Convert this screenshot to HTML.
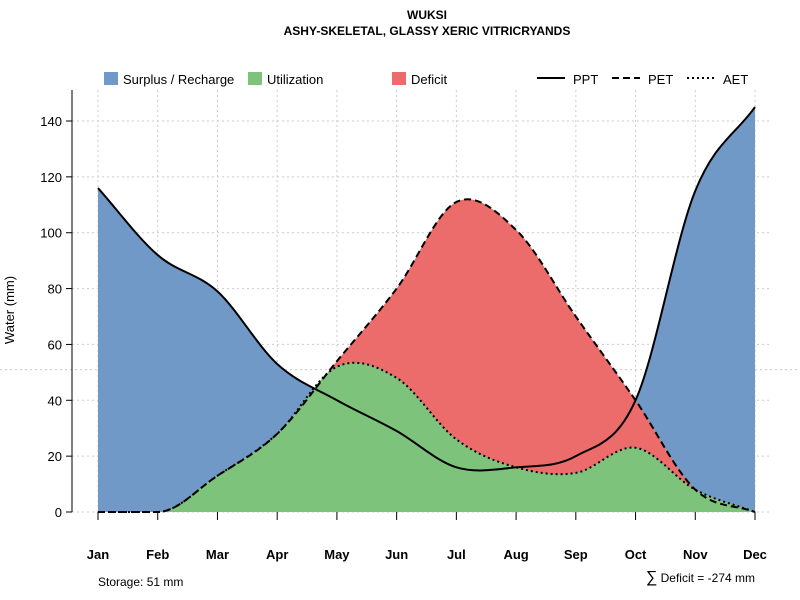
<!DOCTYPE html>
<html><head><meta charset="utf-8"><style>
body{margin:0;background:#fff}
svg{display:block;font-family:"Liberation Sans",sans-serif}
</style></head><body>
<svg id="chart" width="800" height="600">
<text x="427" y="19" text-anchor="middle" font-size="12" font-weight="bold">WUKSI</text>
<text x="427" y="35" text-anchor="middle" font-size="12" font-weight="bold">ASHY-SKELETAL, GLASSY XERIC VITRICRYANDS</text>
<g id="grid"></g>
<g id="areas"></g>
<g id="lines"></g>
<g id="axes"></g>
<g font-size="13">
<rect x="104" y="72" width="14" height="13" fill="#7199c8"/>
<text x="123" y="84">Surplus / Recharge</text>
<rect x="248" y="72" width="14" height="13" fill="#7dc37b"/>
<text x="267" y="84">Utilization</text>
<rect x="392" y="72" width="14" height="13" fill="#ec6b6b"/>
<text x="411" y="84">Deficit</text>
<line x1="537" y1="78" x2="565" y2="78" stroke="#000" stroke-width="2"/>
<text x="573" y="84">PPT</text>
<line x1="612" y1="78" x2="640" y2="78" stroke="#000" stroke-width="2" stroke-dasharray="7,4"/>
<text x="648" y="84">PET</text>
<line x1="687" y1="78" x2="715" y2="78" stroke="#000" stroke-width="2" stroke-dasharray="2,3"/>
<text x="723" y="84">AET</text>
</g>
<text x="14" y="310" font-size="13" text-anchor="middle" transform="rotate(-90 14 310)">Water (mm)</text>
<text x="98" y="586" font-size="12">Storage: 51 mm</text>
<text x="755" y="582" font-size="12" text-anchor="end"><tspan font-size="16">∑</tspan> Deficit = -274 mm</text>
</svg>
<script>
const months=["Jan","Feb","Mar","Apr","May","Jun","Jul","Aug","Sep","Oct","Nov","Dec"];
const ppt=[116,92,79,53,40,29,16,16,20,40,115,145];
const pet=[0,0,13,28,54,80,111,101,70,40,8,0];
const aet=[0,0,13,28,52,48,26,16,14,23,8,0];
const yTicks=[0,20,40,60,80,100,120,140];
const storage=51;
const NS="http://www.w3.org/2000/svg";
const X=i=>98+i*(755-98)/11;
const Y=v=>512-v*(512-121)/140;
function mk(t,a,p){const e=document.createElementNS(NS,t);for(const k in a)e.setAttribute(k,a[k]);document.getElementById(p).appendChild(e);return e;}
function curve(vals){
  const n=vals.length,xs=vals.map((v,i)=>X(i)),ys=vals.map(Y);
  const d=[],m=[];
  for(let i=0;i<n-1;i++)d.push((ys[i+1]-ys[i])/(xs[i+1]-xs[i]));
  for(let i=0;i<n;i++){
    if(i==0)m.push(d[0]);else if(i==n-1)m.push(d[n-2]);
    else if(vals[i]==0&&(d[i-1]==0||d[i]==0))m.push(0);
    else m.push((d[i-1]+d[i])/2);
  }
  let p="M"+xs[0]+","+ys[0];
  for(let i=0;i<n-1;i++){const h=(xs[i+1]-xs[i])/3;p+=" C"+(xs[i]+h)+","+(ys[i]+m[i]*h)+" "+(xs[i+1]-h)+","+(ys[i+1]-m[i+1]*h)+" "+xs[i+1]+","+ys[i+1];}
  return p;
}
const close=" L"+X(11)+","+Y(0)+" L"+X(0)+","+Y(0)+" Z";
months.forEach((m,i)=>{const g=mk("line",{x1:X(i),x2:X(i),y1:90,y2:512,stroke:"#ccc","stroke-dasharray":"2,3"},"grid");

});
yTicks.forEach(v=>{const g=mk("line",{x1:72,x2:770,y1:Y(v),y2:Y(v),stroke:"#ccc","stroke-dasharray":"2,3"},"grid");

});
const sl=mk("line",{x1:0,x2:800,y1:Y(storage),y2:Y(storage),stroke:"#ccc","stroke-dasharray":"2,3"},"grid");


let a=mk("path",{d:curve(ppt)+close,fill:"#7199c8"},"areas");


a=mk("path",{d:curve(pet)+close,fill:"#ec6b6b"},"areas");


a=mk("path",{d:curve(aet)+close,fill:"#7dc37b"},"areas");


let l=mk("path",{d:curve(ppt),fill:"none",stroke:"#000","stroke-width":2},"lines");


l=mk("path",{d:curve(pet),fill:"none",stroke:"#000","stroke-width":2,"stroke-dasharray":"7,4"},"lines");


l=mk("path",{d:curve(aet),fill:"none",stroke:"#000","stroke-width":2,"stroke-dasharray":"2,3"},"lines");


let ax=mk("line",{x1:72,x2:72,y1:90,y2:512,stroke:"#000"},"axes");


yTicks.forEach(v=>{mk("line",{x1:66,x2:72,y1:Y(v),y2:Y(v),stroke:"#000"},"axes");
const t=mk("text",{x:62,y:Y(v)+5,"text-anchor":"end","font-size":13},"axes");t.textContent=v;

});
months.forEach((m,i)=>{mk("line",{x1:X(i),x2:X(i),y1:512,y2:520,stroke:"#000"},"axes");
const t=mk("text",{x:X(i),y:559,"text-anchor":"middle","font-size":13,"font-weight":"bold"},"axes");t.textContent=m;

});
</script>
</body></html>
